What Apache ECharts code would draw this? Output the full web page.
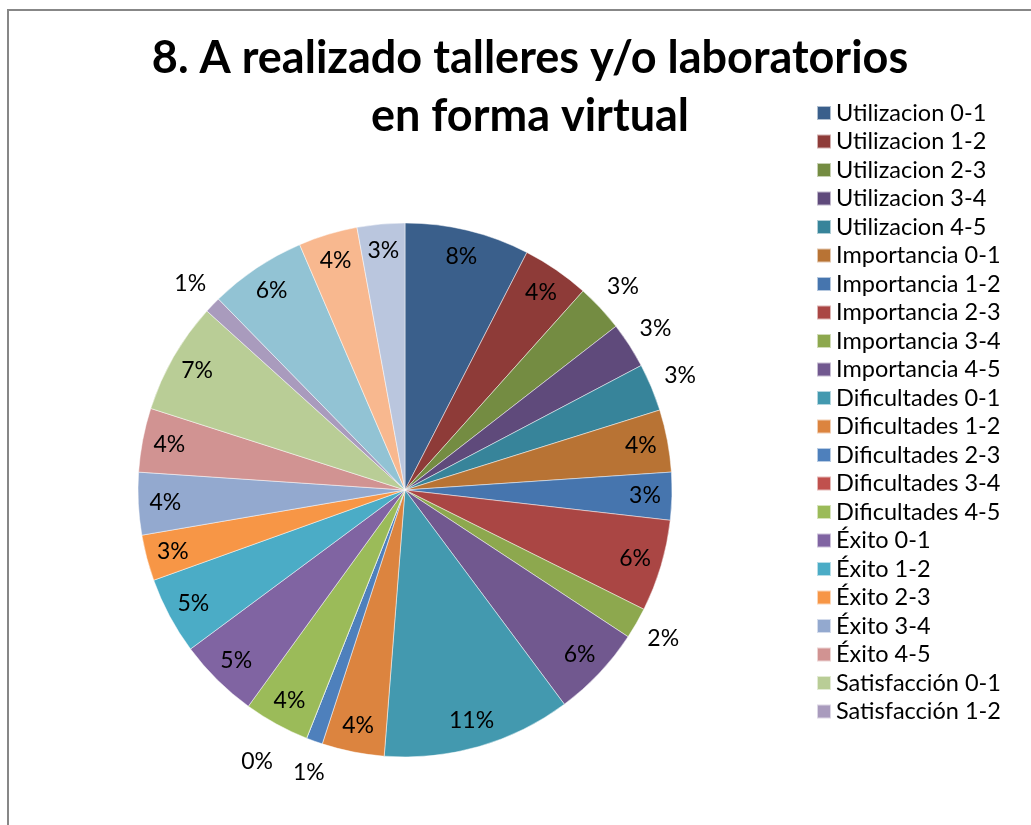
<!DOCTYPE html>
<html>
<head>
<meta charset="utf-8">
<script src="https://cdn.jsdelivr.net/npm/echarts@6/dist/echarts.min.js"></script>
<style>
html, body { margin: 0; padding: 0; background: #fff; }
#chart { width: 1031px; height: 825px; }
</style>
</head>
<body>
<div id="chart"></div>
<script>
// categorias del grafico (las 3 ultimas no salen en la leyenda)
const categories = [
    'Utilizacion 0-1', 'Utilizacion 1-2', 'Utilizacion 2-3', 'Utilizacion 3-4', 'Utilizacion 4-5',
    'Importancia 0-1', 'Importancia 1-2', 'Importancia 2-3', 'Importancia 3-4', 'Importancia 4-5',
    'Dificultades 0-1', 'Dificultades 1-2', 'Dificultades 2-3', 'Dificultades 3-4', 'Dificultades 4-5',
    'Éxito 0-1', 'Éxito 1-2', 'Éxito 2-3', 'Éxito 3-4', 'Éxito 4-5',
    'Satisfacción 0-1', 'Satisfacción 1-2', 'Satisfacción 2-3', 'Satisfacción 3-4', 'Satisfacción 4-5'
]
const values = [
    7.6, 4.1, 2.9, 2.8, 2.9,
    3.8, 2.9, 5.6, 1.9, 5.6,
    11.5, 3.8, 1.0, 0, 4.0,
    4.9, 4.7, 2.8, 3.8, 3.9,
    6.8, 1.0, 5.9, 3.6, 2.9
]
// etiquetas que van fuera del sector
const outsideLabels = ['Utilizacion 2-3', 'Utilizacion 3-4', 'Utilizacion 4-5', 'Importancia 3-4',
    'Dificultades 2-3', 'Dificultades 3-4', 'Satisfacción 1-2']
const legendNames = categories.slice(0, 22)
const colors = [
    '#3a5f8b', '#8e3b38', '#748c42', '#5f4a7b', '#37849a',
    '#b87334', '#4675ae', '#aa4644', '#8da84e', '#71588f',
    '#4399af', '#dc843f', '#4e80bc', '#c0504d', '#9bbb59',
    '#8064a2', '#4bacc6', '#f79646', '#93a9cf', '#d19392',
    '#b9cd96', '#a99bbd', '#92c3d4', '#f8b88f', '#bac6de'
]

const FONT = 'Lato'
const CX = 405
const CY = 490
const R = 267

let myChart = echarts.init(document.getElementById('chart'))

let pctLabel = function (p) {
    return Math.round(p.percent) + '%'
}

let mainData = categories.map((c, i) => ({name: c, value: values[i]}))
let innerLabelData = categories.map((c, i) => ({
    name: c,
    value: values[i],
    label: {show: outsideLabels.indexOf(c) < 0}
}))
let outerLabelData = categories.map((c, i) => {
    let item = {name: c, value: values[i], label: {show: outsideLabels.indexOf(c) >= 0}}
    if (c === 'Dificultades 3-4') item.label.offset = [-38, -5]
    if (c === 'Dificultades 2-3') item.label.offset = [5, 2]
    return item
})

let option = {
    animation: false,
    color: colors,
    textStyle: {fontFamily: FONT},
    title: {
        text: '8. A realizado talleres y/o laboratorios\nen forma virtual',
        left: 525,
        top: 24,
        textAlign: 'center',
        textStyle: {
            fontFamily: FONT,
            fontWeight: 'bold',
            fontSize: 45,
            lineHeight: 58,
            color: '#000'
        }
    },
    legend: {
        orient: 'vertical',
        left: 811,
        top: 96,
        data: legendNames,
        icon: 'rect',
        itemWidth: 14,
        itemHeight: 14,
        itemGap: 4.5,
        selectedMode: false,
        textStyle: {
            fontFamily: FONT,
            fontSize: 23.5,
            lineHeight: 24,
            color: '#000'
        }
    },
    graphic: [{
        type: 'polyline',
        silent: true,
        shape: {points: [[8, 825], [8, 10], [1031, 10]]},
        style: {stroke: '#878787', lineWidth: 2, fill: null}
    }],
    series: [
        {
            name: 'main',
            type: 'pie',
            center: [CX, CY],
            radius: R,
            startAngle: 90,
            clockwise: true,
            silent: true,
            label: {show: false},
            labelLine: {show: false},
            itemStyle: {borderColor: 'rgba(255,255,255,0.6)', borderWidth: 0.8},
            data: mainData
        },
        {
            name: 'inner labels',
            type: 'pie',
            center: [CX, CY],
            radius: [207, R],
            startAngle: 90,
            silent: true,
            itemStyle: {color: 'transparent'},
            label: {
                position: 'inside',
                formatter: pctLabel,
                fontFamily: FONT,
                fontSize: 23,
                color: '#000'
            },
            labelLine: {show: false},
            data: innerLabelData
        },
        {
            name: 'outer labels',
            type: 'pie',
            center: [CX, CY],
            radius: [275, 315],
            startAngle: 90,
            silent: true,
            itemStyle: {color: 'transparent'},
            label: {
                position: 'inside',
                formatter: pctLabel,
                fontFamily: FONT,
                fontSize: 23,
                color: '#000'
            },
            labelLine: {show: false},
            data: outerLabelData
        }
    ]
}
myChart.setOption(option)
</script>
</body>
</html>
